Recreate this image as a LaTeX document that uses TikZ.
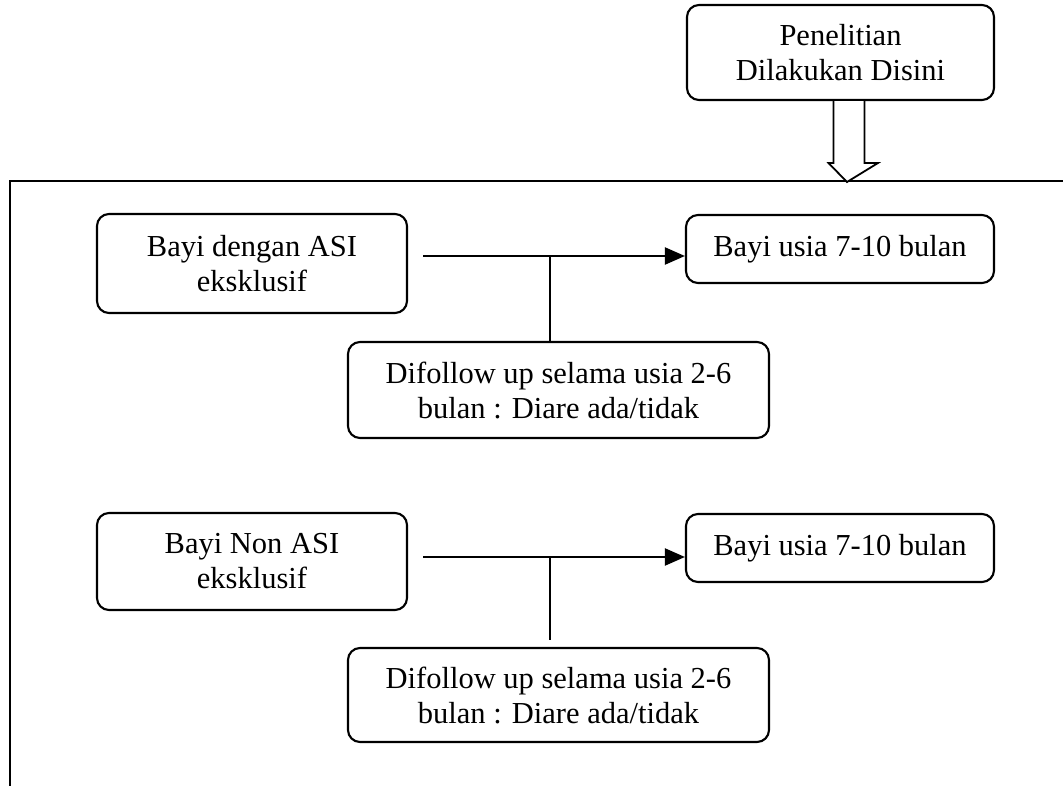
\documentclass[tikz,border=0pt]{standalone}
\usepackage{fontspec}
\setmainfont{Liberation Serif}
\usetikzlibrary{arrows.meta}
\begin{document}
\begin{tikzpicture}[x=1pt, y=-1pt, line width=2.1pt,
    kotak/.style={draw, rounded corners=12pt, align=center, inner sep=0pt,
        font=\fontsize{30.5}{35}\selectfont},
    panah/.style={-{Triangle[length=20pt,width=17pt]}}]
				\useasboundingbox (0,0) rectangle (1063,786);
    			% Draw frame
				\draw (10,786) -- (10,181) -- (1063,181);
				% Top box and hollow arrow
				\node[kotak, minimum width=307pt, minimum height=95pt] (riset) at (840.5,52.5) {Penelitian\\Dilakukan Disini};
				\draw[line width=1.8pt, fill=white] ([xshift=-7pt]riset.south) -- ([xshift=-7pt]riset.south |- 0,163) -- ++(-5,0) -- (847,182)
					-- (878,163) -- ([xshift=24pt]riset.south |- 0,163) -- ([xshift=24pt]riset.south) ;
				% Group ASI eksklusif
				\node[kotak, minimum width=310pt, minimum height=99pt] (asi) at (252,263.5) {Bayi dengan ASI\\eksklusif};
				\node[kotak, minimum width=308pt, minimum height=68pt] (usia1) at (840,249) {Bayi usia 7-10 bulan};
				\node[kotak, minimum width=421pt, minimum height=96pt] (follow1) at (558.5,390) {Difollow up selama usia 2-6\\bulan : Diare ada/tidak};
				\coordinate (j1) at (550,256);
				\draw[panah] ([xshift=15pt]asi.east |- j1) -- (j1 -| usia1.west);
				\draw (j1) -- (j1 |- follow1.north);
				% Group Non ASI eksklusif
				\node[kotak, minimum width=310pt, minimum height=97pt] (nonasi) at (252,561.5) {Bayi Non ASI\\eksklusif};
				\node[kotak, minimum width=308pt, minimum height=68pt] (usia2) at (840,548) {Bayi usia 7-10 bulan};
				\node[kotak, minimum width=421pt, minimum height=94pt] (follow2) at (558.5,695) {Difollow up selama usia 2-6\\bulan : Diare ada/tidak};
				\coordinate (j2) at (550,557);
				\draw[panah] ([xshift=15pt]nonasi.east |- j2) -- (j2 -| usia2.west);
				\draw (j2) -- ([yshift=7pt]j2 |- follow2.north);
			\end{tikzpicture}
\end{document}
